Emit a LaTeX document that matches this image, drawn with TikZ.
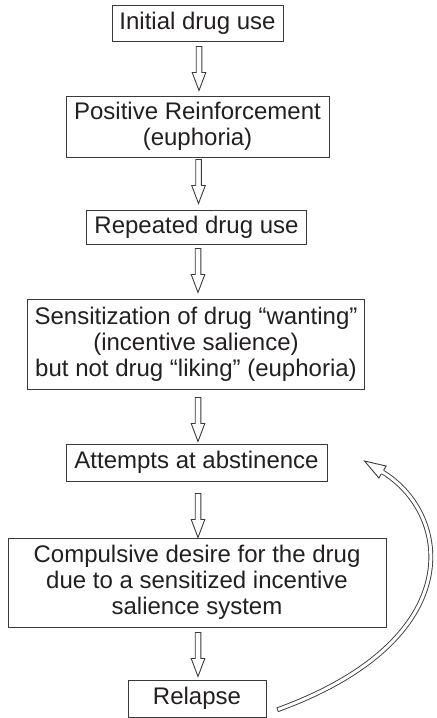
\documentclass[tikz,border=0pt]{standalone}
\usepackage{fontspec}
\setmainfont{Liberation Sans}
\usetikzlibrary{calc}
\definecolor{ink}{HTML}{231F20}
\definecolor{edgegray}{HTML}{3A3A3A}
\tikzset{
  box/.style={draw=edgegray, line width=0.5pt, align=center, inner sep=0pt,
    font=\fontsize{12}{13.1}\selectfont, text=ink},
  harrow/.style={draw=edgegray, line width=0.45pt, fill=white, line join=miter},
  curvearrow/.style={draw=edgegray, line width=0.45pt, double=white, double distance=1.5pt, line cap=rect},
}
\newcommand\hollowdown[1]{\draw[harrow] #1 ++(-2.8,0) -- ++(0,26) -- ++(-4,0) -- ++(6.8,18) -- ++(6.8,-18) -- ++(-4,0) -- ++(0,-26) -- cycle;}
\begin{document}
\begin{tikzpicture}[x=0.5pt,y=-0.5pt]
\useasboundingbox (0,0) rectangle (436,718);
\node[box, minimum width=85.5pt, minimum height=18pt] (b1) at (197.5,23) {Initial drug use};
\node[box, minimum width=131.5pt, minimum height=30.5pt] (b2) at (197.5,126.5) {Positive Reinforcement\\(euphoria)};
\node[box, minimum width=110pt, minimum height=17pt] (b3) at (196.5,227) {Repeated drug use};
\node[box, minimum width=168.5pt, minimum height=45pt] (b4) at (196,344) {Sensitization of drug “wanting”\\(incentive salience)\\ but not drug “liking” (euphoria)};
\node[box, minimum width=130.5pt, minimum height=18.5pt] (b5) at (196.5,462.5) {Attempts at abstinence};
\node[box, minimum width=189pt, minimum height=44.5pt] (b6) at (197,582.5) {Compulsive desire for the drug\\due to a sensitized incentive\\salience system};
\node[box, minimum width=69pt, minimum height=18.5pt] (b7) at (197,698.5) {Relapse};

\hollowdown{($(b1.south)+(1.5,5)$)}
\hollowdown{($(b2.south)+(1,2)$)}
\hollowdown{($(b3.south)+(1.5,4)$)}
\hollowdown{($(b4.south)+(2,8)$)}
\hollowdown{($(b5.south)+(1.5,12)$)}
\hollowdown{($(b6.south)+(1,5)$)}

\coordinate (tail) at ($(b7.east)+(13,10.5)$);
\coordinate (tip) at ($(b5.east)+(37,-1.5)$);
\coordinate (hb) at ($(tip)+(18,11)$);
\draw[curvearrow] (tail) .. controls ($(tail)+(190,-70)$) and ($(hb)+(69,42)$) .. (hb);
\filldraw[harrow] ($(hb)+(1.2,-1.96)$) -- ($(hb)+(3.65,-5.97)$) -- (tip) -- ($(hb)+(-3.65,5.97)$) -- ($(hb)+(-1.2,1.96)$);
\end{tikzpicture}
\end{document}
